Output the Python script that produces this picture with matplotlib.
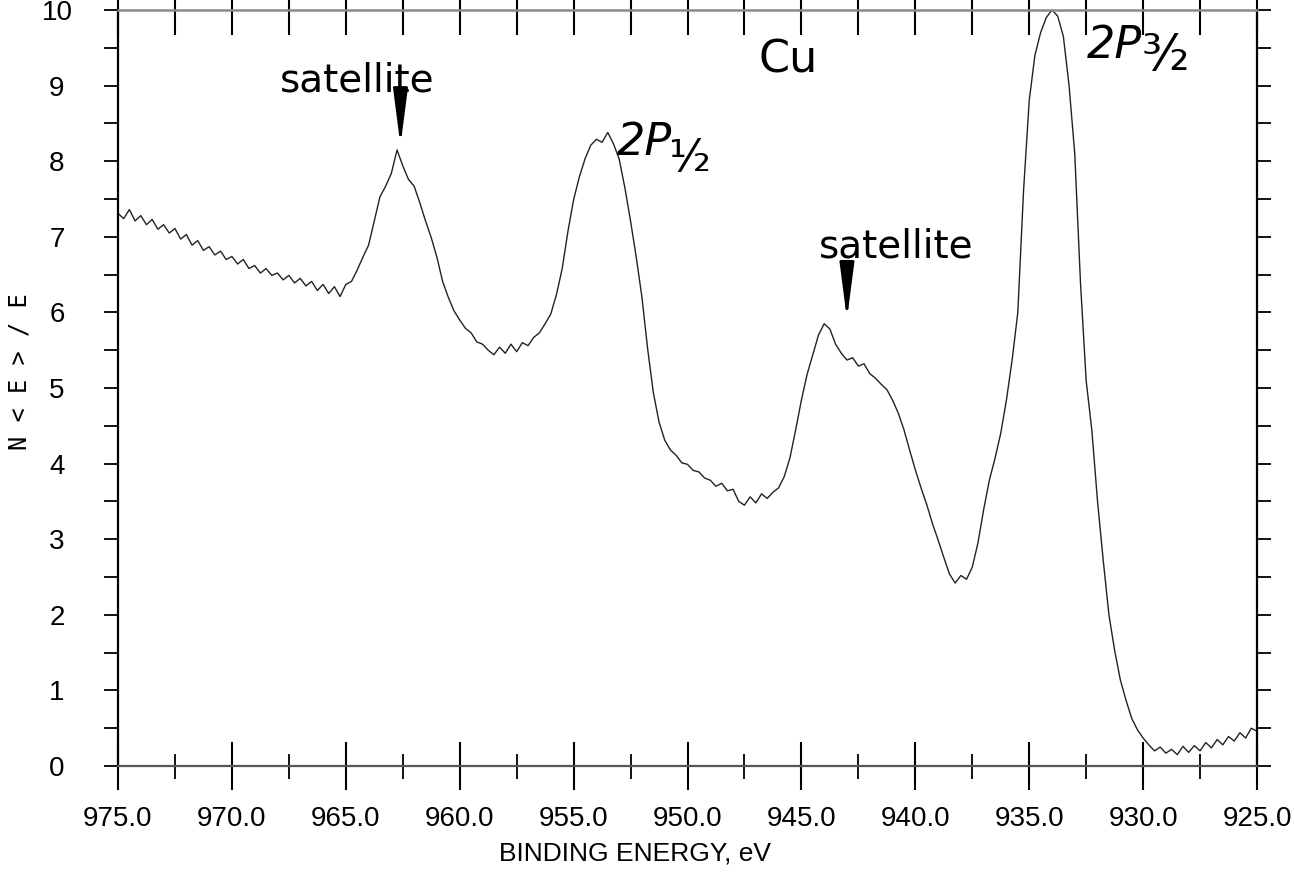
import numpy as np
import matplotlib
matplotlib.use('agg')
import matplotlib.pyplot as plt
from matplotlib.ticker import MultipleLocator, FormatStrFormatter

# Cu 2p XPS spectrum, every 0.25 eV (975 -> 925 eV)
energy = np.linspace(975.0, 925.0, 201)
counts = [
    7.31, 7.24, 7.36, 7.21, 7.28, 7.16, 7.23, 7.10,  # 975.00 - 973.25
    7.16, 7.05, 7.11, 6.97, 7.03, 6.89, 6.95, 6.82,  # 973.00 - 971.25
    6.87, 6.76, 6.81, 6.70, 6.74, 6.64, 6.70, 6.58,  # 971.00 - 969.25
    6.62, 6.52, 6.58, 6.49, 6.52, 6.43, 6.49, 6.39,  # 969.00 - 967.25
    6.45, 6.35, 6.41, 6.29, 6.37, 6.25, 6.34, 6.21,  # 967.00 - 965.25
    6.37, 6.41, 6.56, 6.73, 6.89, 7.21, 7.53, 7.67,  # 965.00 - 963.25
    7.84, 8.15, 7.94, 7.76, 7.67, 7.45, 7.21, 6.99,  # 963.00 - 961.25
    6.73, 6.41, 6.20, 6.02, 5.90, 5.79, 5.73, 5.61,  # 961.00 - 959.25
    5.58, 5.50, 5.44, 5.54, 5.46, 5.58, 5.48, 5.60,  # 959.00 - 957.25
    5.56, 5.67, 5.73, 5.85, 5.98, 6.24, 6.58, 7.07,  # 957.00 - 955.25
    7.49, 7.79, 8.03, 8.21, 8.29, 8.25, 8.38, 8.23,  # 955.00 - 953.25
    8.03, 7.65, 7.21, 6.73, 6.20, 5.52, 4.94, 4.55,  # 953.00 - 951.25
    4.31, 4.18, 4.11, 4.01, 3.99, 3.91, 3.89, 3.81,  # 951.00 - 949.25
    3.78, 3.70, 3.74, 3.64, 3.66, 3.50, 3.45, 3.56,  # 949.00 - 947.25
    3.48, 3.60, 3.54, 3.62, 3.68, 3.83, 4.08, 4.45,  # 947.00 - 945.25
    4.84, 5.18, 5.44, 5.70, 5.85, 5.78, 5.58, 5.46,  # 945.00 - 943.25
    5.37, 5.40, 5.29, 5.32, 5.19, 5.13, 5.05, 4.98,  # 943.00 - 941.25
    4.84, 4.67, 4.45, 4.18, 3.92, 3.68, 3.46, 3.21,  # 941.00 - 939.25
    2.99, 2.76, 2.54, 2.42, 2.52, 2.47, 2.63, 2.95,  # 939.00 - 937.25
    3.39, 3.78, 4.07, 4.40, 4.84, 5.37, 6.00, 7.60,  # 937.00 - 935.25
    8.80, 9.40, 9.70, 9.90, 10.00, 9.92, 9.65, 9.00,  # 935.00 - 933.25
    8.10, 6.40, 5.10, 4.44, 3.50, 2.72, 2.00, 1.53,  # 933.00 - 931.25
    1.14, 0.87, 0.63, 0.48, 0.37, 0.28, 0.20, 0.25,  # 931.00 - 929.25
    0.17, 0.22, 0.15, 0.26, 0.18, 0.27, 0.20, 0.31,  # 929.00 - 927.25
    0.24, 0.35, 0.28, 0.39, 0.33, 0.44, 0.37, 0.50,  # 927.00 - 925.25
    0.46,                                            # 925.00
]

xticks = [975.0, 970.0, 965.0, 960.0, 955.0, 950.0, 945.0, 940.0, 935.0, 930.0, 925.0]
yticks = [0, 1, 2, 3, 4, 5, 6, 7, 8, 9, 10]

tickfont = 'Liberation Sans'

fig = plt.figure(figsize=(12.94, 8.74), dpi=100)
ax = fig.add_axes([118 / 1294, 1 - 766 / 874, (1257 - 118) / 1294, (766 - 10) / 874])

ax.plot(energy, counts, color='#222222', lw=1.0, clip_on=False)

ax.set_xlim(975, 925)
ax.set_ylim(0, 10)

ax.spines['top'].set_color('#8a8a8a')
ax.spines['top'].set_linewidth(1.8)
ax.spines['top'].set_linestyle((0, (1.5, 1)))
ax.spines['bottom'].set_color('#555555')
ax.spines['bottom'].set_linewidth(1.6)
for side in ['left', 'right']:
    ax.spines[side].set_color('black')
    ax.spines[side].set_linewidth(1.6)

ax.set_xticks(xticks)
ax.xaxis.set_minor_locator(MultipleLocator(2.5))
ax.xaxis.set_major_formatter(FormatStrFormatter('%.1f'))
ax.tick_params(axis='x', which='major', top=False, direction='inout', length=34, width=1.5,
               pad=12, labelsize=20, labelfontfamily=tickfont)
ax.tick_params(axis='x', which='minor', top=False, direction='inout', length=18, width=1.3)

ax.set_yticks(yticks)
ax.yaxis.set_minor_locator(MultipleLocator(0.5))
ax.tick_params(axis='y', which='both', left=True, right=True, direction='out', length=10,
               width=1.3, pad=34, labelsize=20, labelfontfamily=tickfont)
for lab in ax.get_yticklabels():
    lab.set_horizontalalignment('center')

top = ax.secondary_xaxis('top')
top.xaxis.set_major_locator(MultipleLocator(2.5))
top.tick_params(direction='inout', length=36, width=1.5, labeltop=False)
top.spines['top'].set_visible(False)

fig.text(20 / 1294, 1 - 372 / 874, 'N < E > / E', rotation=90, ha='center', va='center',
         fontsize=17, family='DejaVu Sans Mono')
fig.text(635 / 1294, 1 - 853 / 874, 'BINDING ENERGY, eV', ha='center', va='center',
         fontsize=19, family=tickfont)

ax.text(945.6, 9.34, 'Cu', ha='center', va='center', fontsize=32)

arrow = dict(arrowstyle='-|>,head_length=1.7,head_width=0.22', color='black', lw=2,
             mutation_scale=20)
ax.text(964.5, 8.92, 'satellite', ha='center', va='baseline', fontsize=28)
ax.annotate('', xy=(962.6, 8.17), xytext=(962.6, 8.85), arrowprops=arrow)
ax.text(940.85, 6.72, 'satellite', ha='center', va='baseline', fontsize=28)
ax.annotate('', xy=(943.0, 5.87), xytext=(943.0, 6.63), arrowprops=arrow)

ax.text(953.1, 8.08, '2P', ha='left', va='baseline', fontsize=32, style='italic')
ax.text(950.85, 7.87, '\u00b9\u2044\u2082', ha='left', va='baseline', fontsize=32)
ax.text(932.46, 9.37, '2P', ha='left', va='baseline', fontsize=32, style='italic')
ax.text(930.05, 9.2, '\u00b3\u2044\u2082', ha='left', va='baseline', fontsize=36)

plt.savefig('out.png', format='png', dpi=100)
plt.close()
